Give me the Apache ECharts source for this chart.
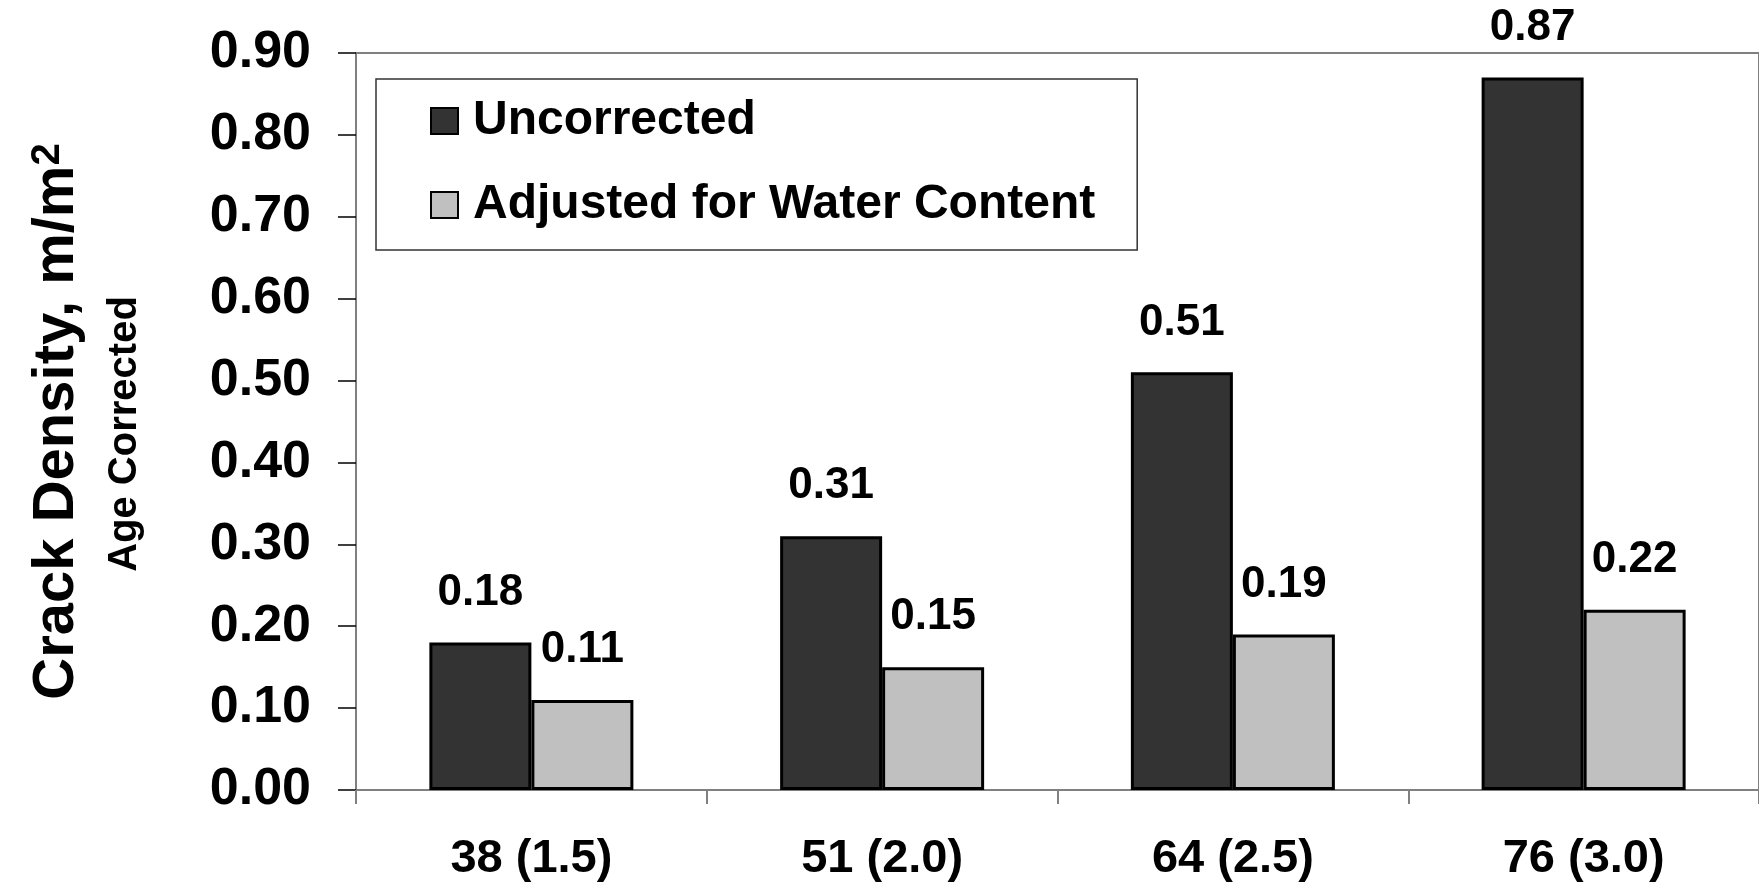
<!DOCTYPE html>
<html>
<head>
<meta charset="utf-8">
<script src="https://cdn.jsdelivr.net/npm/echarts@6/dist/echarts.min.js"></script>
<style>
  html, body { margin: 0; padding: 0; background: #ffffff; }
  #chart { width: 1759px; height: 883px; }
</style>
</head>
<body>
<div id="chart"></div>
<script>
// Crack density by deck thickness, mm (in.)
const categories = ['38 (1.5)', '51 (2.0)', '64 (2.5)', '76 (3.0)'];
const uncorrected = [0.18, 0.31, 0.51, 0.87];
const adjustedForWater = [0.11, 0.15, 0.19, 0.22];
const seriesNames = ['Uncorrected', 'Adjusted for Water Content'];
const yMin = 0, yMax = 0.9, yStep = 0.1;

const FONT = '"Liberation Sans", Arial, Helvetica, sans-serif';

const chart = echarts.init(document.getElementById('chart'), null, { renderer: 'canvas' });

function barLabel() {
  return {
    show: true,
    position: 'top',
    distance: 28,
    fontFamily: FONT,
    fontWeight: 'bold',
    fontSize: 44,
    color: '#000000',
    formatter: p => Number(p.value).toFixed(2)
  };
}

const option = {
  backgroundColor: '#ffffff',
  animation: false,
  grid: {
    left: 356,
    top: 53,
    width: 1409,
    bottom: 91,
    show: true,
    borderColor: '#808080',
    borderWidth: 2,
    backgroundColor: 'transparent',
    containLabel: false
  },
  legend: {
    orient: 'vertical',
    left: 376,
    top: 79,
    padding: [18, 42, 21, 54],
    itemGap: 36,
    itemWidth: 27,
    itemHeight: 26,
    backgroundColor: '#ffffff',
    borderColor: '#333333',
    borderWidth: 1.5,
    borderRadius: 0,
    icon: 'rect',
    itemStyle: { borderColor: '#000000', borderWidth: 2 },
    textStyle: {
      fontFamily: FONT,
      fontWeight: 'bold',
      fontSize: 48,
      color: '#000000',
      padding: [0, 0, 0, 10]
    },
    data: seriesNames
  },
  xAxis: {
    type: 'category',
    data: categories,
    axisLine: { show: true, lineStyle: { color: '#808080', width: 2 } },
    axisTick: { show: true, length: 14, lineStyle: { color: '#808080', width: 2 } },
    axisLabel: {
      margin: 46,
      fontFamily: FONT,
      fontWeight: 'bold',
      fontSize: 47,
      color: '#000000'
    },
    splitLine: { show: false }
  },
  yAxis: {
    type: 'value',
    min: yMin,
    max: yMax,
    interval: yStep,
    name: '{a|Crack Density, m/m}{sup|2}',
    nameLocation: 'middle',
    nameRotate: 90,
    nameGap: 270,
    nameTextStyle: {
      rich: {
        a: {
          fontFamily: FONT, fontWeight: 'bold', fontSize: 58, color: '#000000',
          lineHeight: 58, verticalAlign: 'bottom'
        },
        sup: {
          fontFamily: FONT, fontWeight: 'bold', fontSize: 40, color: '#000000',
          lineHeight: 40, padding: [0, 0, 46, 0], verticalAlign: 'top'
        }
      }
    },
    axisLine: { show: true, lineStyle: { color: '#808080', width: 2 } },
    axisTick: { show: true, length: 18, lineStyle: { color: '#000000', width: 1.5 } },
    axisLabel: {
      margin: 45,
      fontFamily: FONT,
      fontWeight: 'bold',
      fontSize: 52,
      color: '#000000',
      formatter: v => v.toFixed(2)
    },
    splitLine: { show: false }
  },
  graphic: [
    {
      type: 'text',
      x: 125,
      y: 434,
      rotation: Math.PI / 2,
      style: {
        text: 'Age Corrected',
        fontFamily: FONT,
        fontWeight: 'bold',
        fontSize: 40,
        fill: '#000000',
        align: 'center',
        verticalAlign: 'middle'
      }
    }
  ],
  series: [
    {
      name: seriesNames[0],
      type: 'bar',
      data: uncorrected,
      barWidth: 102,
      barGap: '0%',
      itemStyle: { color: '#333333', borderColor: '#000000', borderWidth: 3 },
      label: barLabel()
    },
    {
      name: seriesNames[1],
      type: 'bar',
      data: adjustedForWater,
      barWidth: 102,
      barGap: '0%',
      itemStyle: { color: '#c0c0c0', borderColor: '#000000', borderWidth: 3 },
      label: barLabel()
    }
  ]
};

chart.setOption(option);
</script>
</body>
</html>
